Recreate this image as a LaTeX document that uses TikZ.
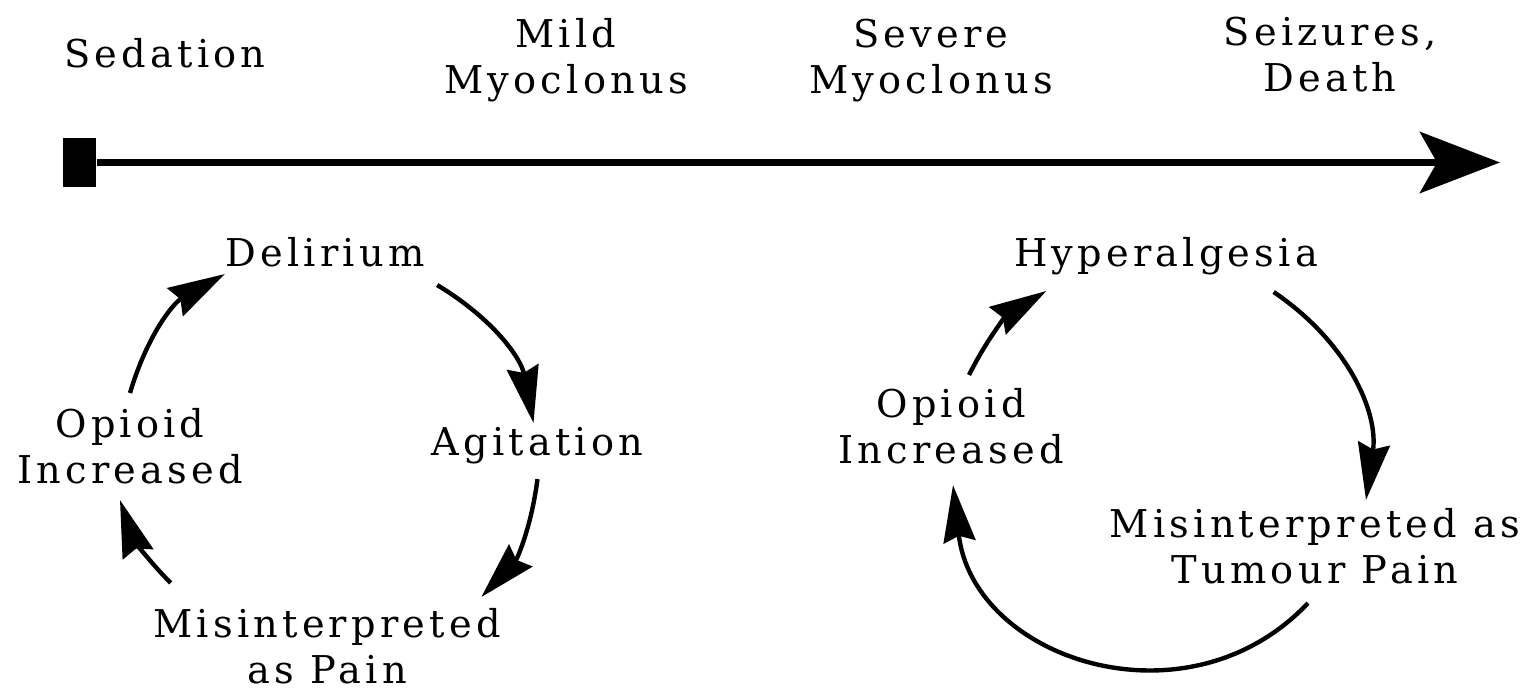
\documentclass[tikz,border=0pt]{standalone}
\usepackage{fontspec}
\setmainfont[LetterSpace=11]{DejaVu Serif}
\usepackage{tikz}
\usetikzlibrary{arrows.meta, positioning}

\begin{document}
\begin{tikzpicture}[
    tag/.style={font=\fontsize{10.9}{13.1}\selectfont, align=center, inner sep=0pt, anchor=north},
    flow/.style={line width=1.25pt, -{Stealth[length=5.7mm, width=3.2mm, inset=0.6mm]}, bend left=#1},
  ]
    \useasboundingbox (0,0) rectangle (15.35,-6.94);

    % time line
    \node[tag] (sedation) at (1.65,-0.38) {Sedation};
    \node[tag] (mild)     at (5.66,-0.18) {Mild\\Myoclonus};
    \node[tag] (severe)   at (9.31,-0.18) {Severe\\Myoclonus};
    \node[tag] (seizures) at (13.30,-0.16) {Seizures,\\Death};

    \node[fill, inner sep=0pt, minimum width=0.33cm, minimum height=0.49cm] (origin) at (0.795,-1.625) {};
    \coordinate (axisend) at (15.0,-1.625);
    \draw[line width=2.2pt, -{Stealth[length=8mm, width=6.1mm, inset=1.7mm]}] (origin.east) -- (axisend);

    % left loop
    \node[tag] (delirium)  at (3.25,-2.37) {Delirium};
    \node[tag] (agitation) at (5.375,-4.27) {Agitation};
    \node[tag] (opioidL)   at (1.30,-4.08) {Opioid\\Increased};
    \node[tag] (misL)      at (3.27,-6.08) {Misinterpreted\\as Pain};

    \draw[flow=22] ([yshift=0.15cm]opioidL.north) to ([yshift=-0.06cm]delirium.south west);
    \draw[flow=24] ([shift={(0.12,-0.17)}]delirium.south east) to ([shift={(-0.04,0.04)}]agitation.north);
    \draw[flow=18] ([yshift=-0.14cm]agitation.south) to ([shift={(-0.2,0.11)}]misL.north east);
    \draw[flow=13] ([shift={(0.18,0.25)}]misL.north west) to ([shift={(-0.1,-0.15)}]opioidL.south);

    % right loop
    \node[tag] (hyper)   at (11.66,-2.37) {Hyperalgesia};
    \node[tag] (opioidR) at (9.51,-3.88) {Opioid\\Increased};
    \node[tag] (misR)    at (13.15,-5.08) {Misinterpreted as\\Tumour Pain};

    \draw[flow=16] ([shift={(0.18,0.13)}]opioidR.north) to ([shift={(0.33,-0.15)}]hyper.south west);
    \draw[flow=32] ([shift={(-0.45,-0.16)}]hyper.south east) to ([shift={(0.51,0.08)}]misR.north);
    \draw[flow=65, looseness=1.2] ([shift={(-0.07,-0.18)}]misR.south) to ([shift={(0.02,-0.2)}]opioidR.south);
\end{tikzpicture}
\end{document}
